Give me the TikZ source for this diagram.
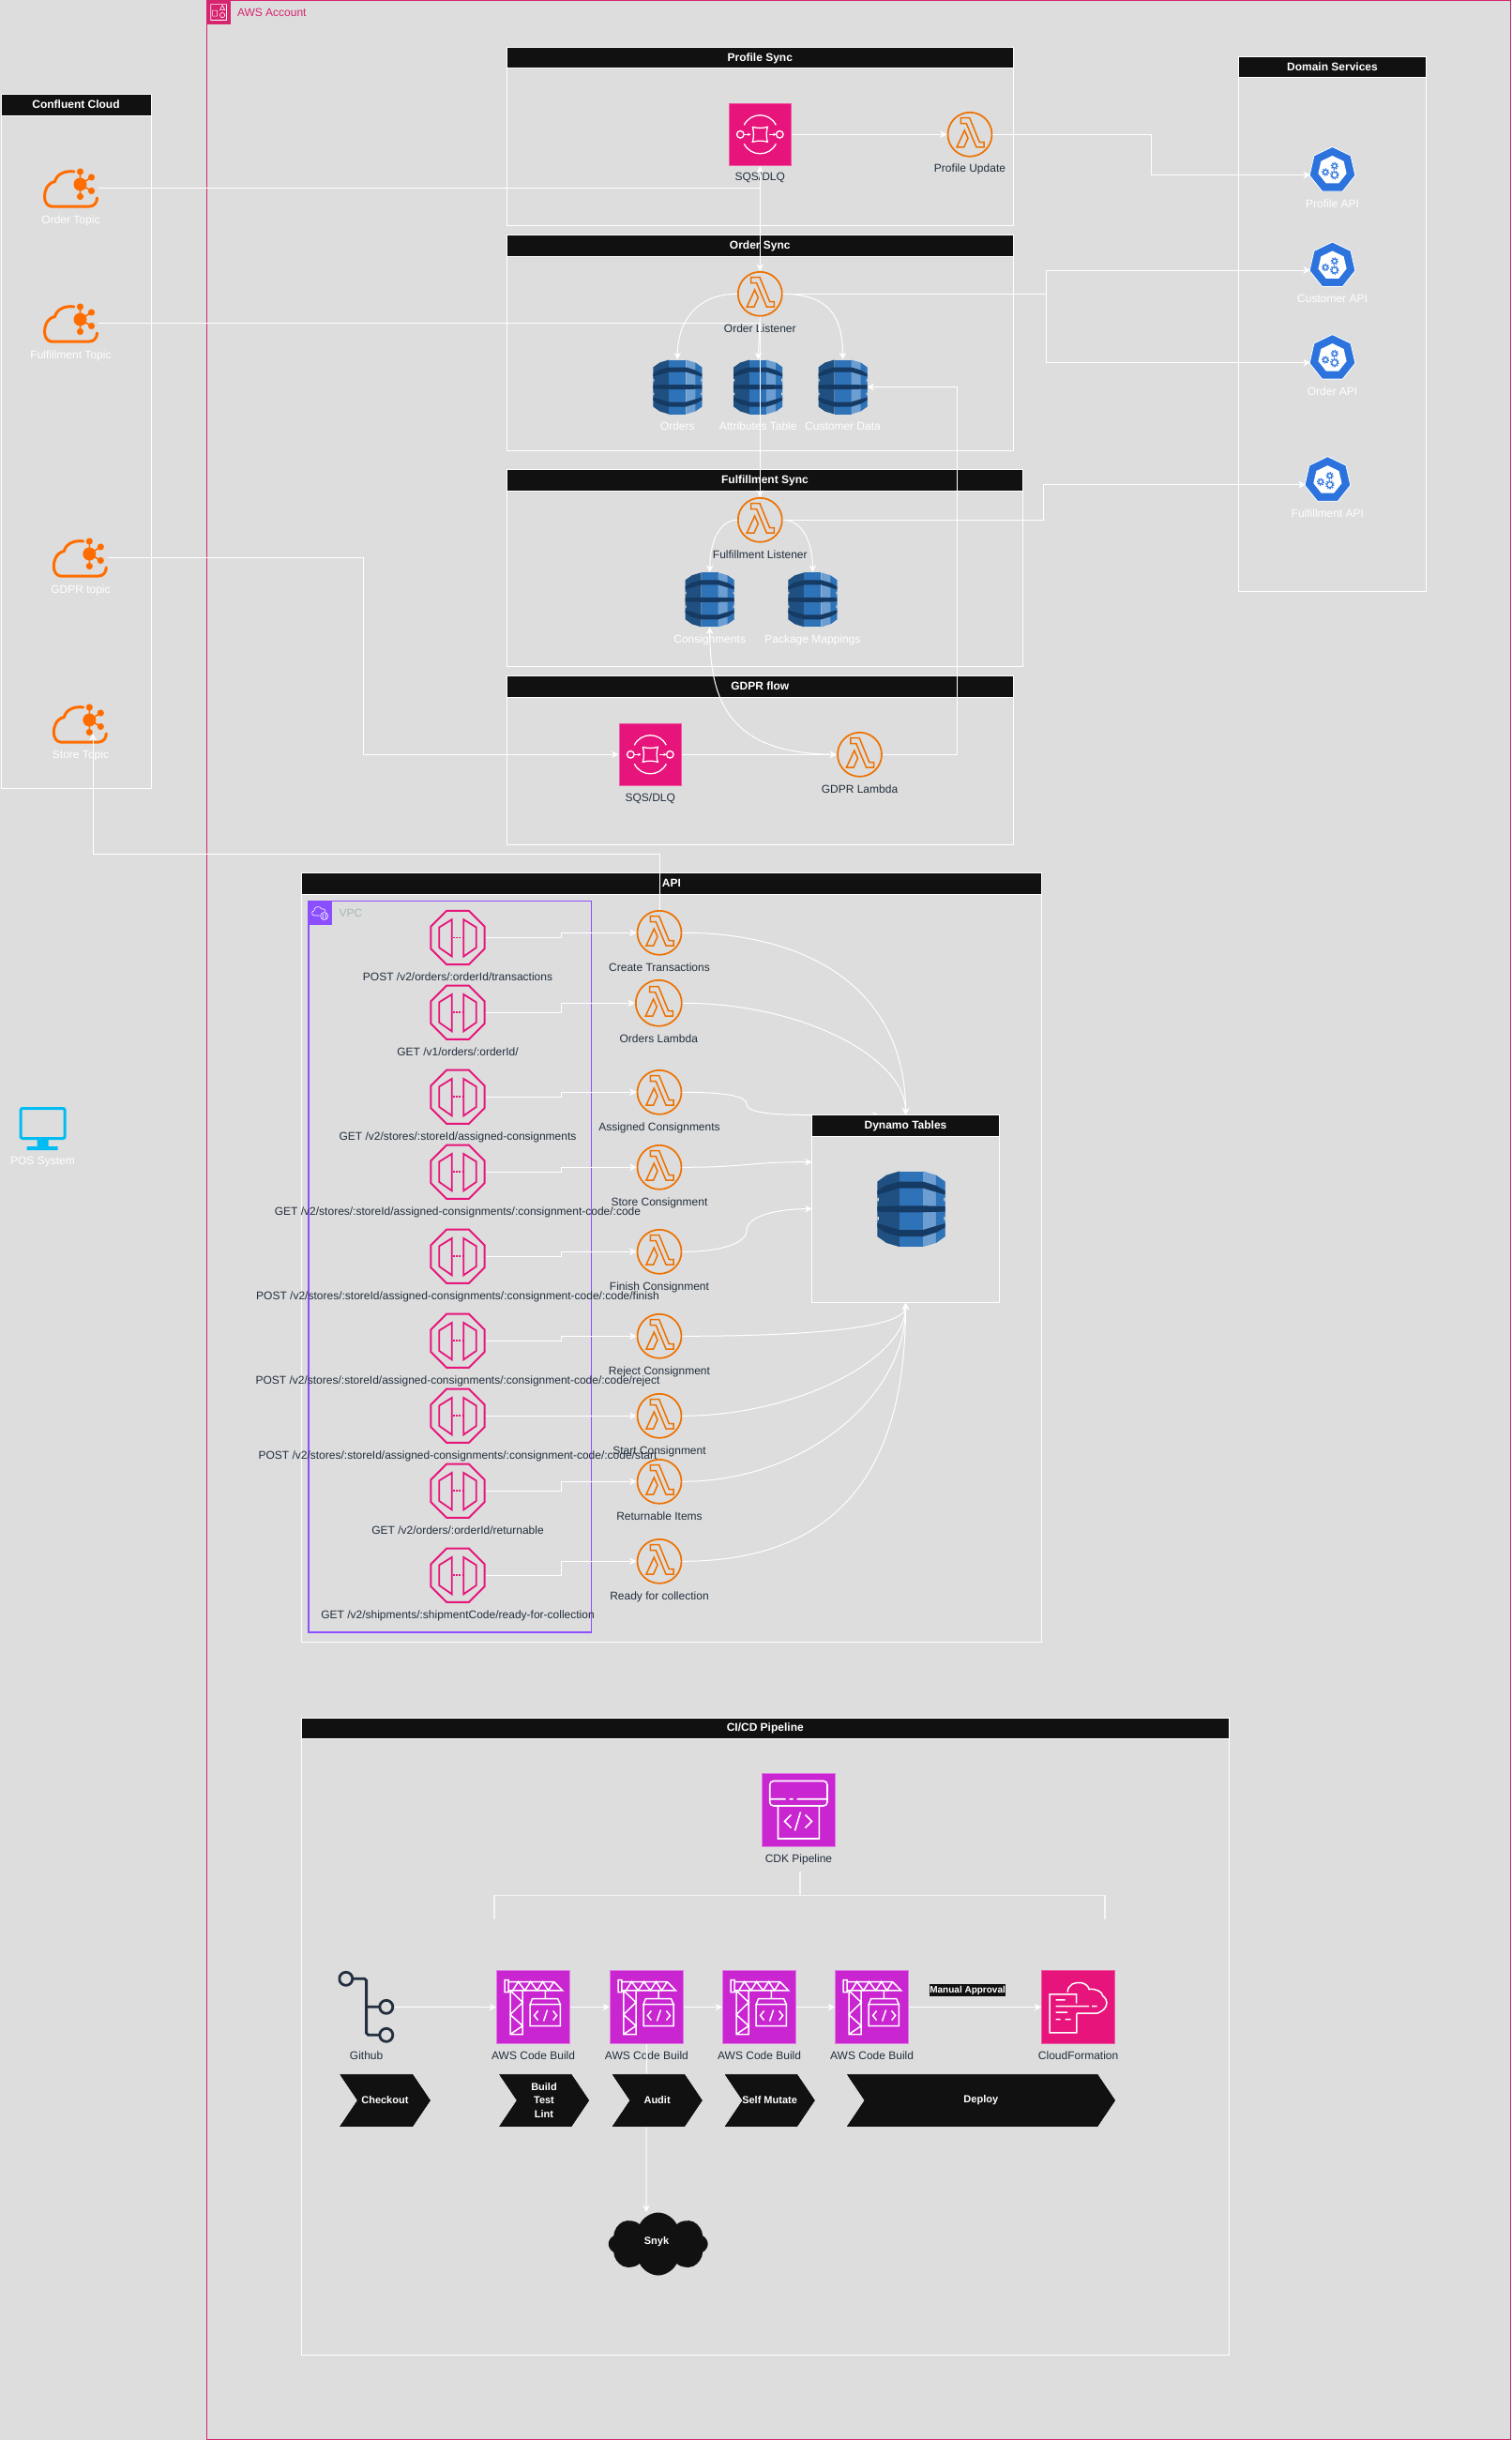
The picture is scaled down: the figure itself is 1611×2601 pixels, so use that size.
\documentclass[tikz,border=0pt]{standalone}
\usepackage{fontspec}
\setmainfont{Liberation Sans}
\usetikzlibrary{shapes.geometric, shapes.symbols, arrows.meta, positioning}
\definecolor{pagebg}{RGB}{221,221,221}
\definecolor{headblack}{RGB}{17,17,17}
\definecolor{inkdark}{RGB}{35,47,62}
\definecolor{awscrimson}{RGB}{214,36,110}
\definecolor{awsorange}{RGB}{237,113,0}
\definecolor{kafkaorange}{RGB}{255,109,0}
\definecolor{awspink}{RGB}{231,21,123}
\definecolor{awspurple}{RGB}{201,37,209}
\definecolor{vpcpurple}{RGB}{140,79,255}
\definecolor{vpcgrey}{RGB}{170,183,184}
\definecolor{kubeblue}{RGB}{44,115,222}
\definecolor{poscyan}{RGB}{0,188,242}
\definecolor{ddbdark}{RGB}{32,80,129}
\definecolor{ddbmid}{RGB}{46,115,184}
\definecolor{ddblight}{RGB}{108,158,210}
\definecolor{ddbband}{RGB}{21,58,99}

% glyphs, drawn round the centre of their node
\newcommand{\lambdaglyph}{
  \draw[awsorange, line width=1.5pt]
    (-9.7,-17.7) -- (-0.3,-17.7) -- (10.3,8.3) -- (15,8.3) -- (15,13.7) -- (7,13.7)
    -- (-3.7,-11.7) -- (-9.7,-11.7) -- cycle
    (-14,13.7) -- (-5.7,-4.3) -- (-2,4) -- (-6.3,13.7) -- cycle;
}
\newcommand{\gatewayglyph}{
  \draw[awspink, line width=1.8pt]
    (-6.3,-19.3) -- (-19.7,-11) -- (-19.7,10.7) -- (-6.3,20) -- cycle
    (6.3,-19.3) -- (19.7,-11) -- (19.7,10.7) -- (6.3,20) -- cycle;
  \draw[awspink, line width=1.8pt, dash pattern=on 1.8pt off 1.4pt] (-5,0) -- (5,0);
}
\newcommand{\sqsglyph}{
  \draw[white, line width=1.3pt]
    (-17,-10) .. controls (-10,-24) and (10,-24) .. (17,-10)
    (-17,10) .. controls (-10,24) and (10,24) .. (17,10)
    (-21,0) circle (3.8) (21,0) circle (3.8)
    (-8,-8) .. controls (-3,-6.5) and (3,-6.5) .. (8,-8)
    .. controls (6.5,-3) and (6.5,3) .. (8,8)
    .. controls (3,6.5) and (-3,6.5) .. (-8,8)
    .. controls (-6.5,3) and (-6.5,-3) .. (-8,-8);
  \draw[white, line width=1.2pt, -{Stealth[length=3pt,width=3.5pt]}] (-17,0) -- (-10,0);
  \draw[white, line width=1.2pt, -{Stealth[length=3pt,width=3.5pt]}] (10,0) -- (17,0);
}
\newcommand{\dynamoglyph}{
  \fill[ddbdark] (-9,-29) -- (-19,-26) -- (-26,-21) -- (-26,21) -- (-19,26) -- (-9,29) -- cycle;
  \fill[ddbmid] (-9,-29) rectangle (9,29);
  \fill[ddblight] (9,-29) -- (19,-26) -- (26,-21) -- (26,21) -- (19,26) -- (9,29) -- cycle;
  \fill[ddbmid] (19,-26) -- (26,-21) -- (26,21) -- (19,26) -- cycle;
  \fill[ddbband] (-26,-14) -- (-20,-18) -- (-9,-21) -- (9,-21) -- (19,-18) -- (26,-14)
    -- (26,-11) -- (9,-16) -- (-9,-16) -- (-26,-11) -- cycle;
  \fill[ddbband] (-26,-2) -- (-9,-2.5) -- (9,-2.5) -- (26,-2) -- (26,2) -- (9,2.5) -- (-9,2.5) -- (-26,2) -- cycle;
  \fill[ddbband] (-26,11) -- (-9,16) -- (9,16) -- (26,11) -- (26,14) -- (19,18) -- (9,21)
    -- (-9,21) -- (-20,18) -- (-26,14) -- cycle;
  \fill[pagebg] (-27,-8.5) rectangle (-25,-6) (25,-8.5) rectangle (27,-6)
    (-27,6) rectangle (-25,8.5) (25,6) rectangle (27,8.5);
}
\newcommand{\kafkaglyph}{
  \draw[kafkaorange, line width=3pt, line cap=round]
    (3.5,-17.5) .. controls (-6,-19) and (-15,-15) .. (-17,-7)
    .. controls (-26,-5) and (-28,4) .. (-28,9)
    .. controls (-28,15) and (-25,19) .. (-21,19.5) -- (20,19.5)
    .. controls (25,19.5) and (28,15) .. (28,10.5);
  \draw[kafkaorange, line width=1.6pt]
    (10,-4) -- (10,-17.5) (10,-4) -- (22,-11.5) (10,-4) -- (22,3) (10,-4) -- (10,9);
  \fill[kafkaorange] (10,-4) circle (7) (10,-17.5) circle (3.6) (22,-11.5) circle (3.6)
    (22,3) circle (3.6) (10,9) circle (3.6);
}
\newcommand{\gearmark}[2]{
  \draw[kubeblue, line width=1pt] #1 circle (#2);
  \draw[kubeblue, line width=1.4pt, dash pattern=on 1.3pt off 1.3pt] #1 circle (#2+1.2);
}
\newcommand{\kubeglyph}{
  \node[regular polygon, regular polygon sides=7, fill=white, minimum size=31pt, inner sep=0pt] at (0,0) {};
  \gearmark{(-7.4,2)}{2.2}
  \gearmark{(2.3,-4.6)}{2.2}
  \gearmark{(2.3,5)}{3}
}
\newcommand{\buildglyph}{
  \draw[white, line width=1.5pt]
    (-30.4,-29) rectangle (-26.5,-16)
    (-26.5,-17.7) -- (31,-17.7) -- (22,-27) -- (-26.5,-27)
    (-22,-17.7) -- (-16,-27) -- (-9,-17.7) -- (-3,-27) -- (4,-17.7) -- (10,-27) -- (16,-17.7) -- (22,-27)
    (-24.6,-17.7) -- (-24.6,29) -- (-11.4,29) -- (-11.4,-17.7)
    (-24.6,-17.7) -- (-11.4,-5) -- (-24.6,8) -- (-11.4,20) -- (-24.6,29)
    (12.7,-17.7) -- (12.7,-9)
    (-3.4,-3) -- (-1,-9) -- (26,-9) -- (28.7,-3) -- cycle
    (-3.4,-3) rectangle (28.7,20)
    (5,4) -- (1,9) -- (5,14) (21,4) -- (25,9) -- (21,14) (15,3) -- (11,15);
}
\newcommand{\cdkglyph}{
  \draw[white, line width=1.6pt, rounded corners=4pt] (-30.8,-31) rectangle (30.5,-4.5);
  \draw[white, line width=1.6pt]
    (-30.8,-11.8) -- (-14,-11.8) (-10,-11.8) -- (-6,-11.8) (-2,-11.8) -- (30.5,-11.8)
    (-22,-4.5) -- (-22,30.5) -- (21.8,30.5) -- (21.8,-4.5)
    (-8,5) -- (-15,12) -- (-8,19) (7,5) -- (14,12) -- (7,19) (2,2) -- (-4,22);
}
\newcommand{\cfnglyph}{
  \draw[white, line width=1.5pt]
    (-2,-4) -- (-2,-13.7) -- (-30.4,-13.7) -- (-30.4,27.3) -- (-1.7,27.3) -- (-1.7,7)
    (-11.5,-16) .. controls (-11,-24) and (-4,-27) .. (3,-26)
    .. controls (8,-25) and (11,-22) .. (11.5,-19)
    .. controls (19,-20) and (26,-16) .. (26,-12)
    .. controls (32,-8) and (33,2) .. (20,6.7) -- (-1.7,6.7)
    (-24,-7.7) -- (-14,-7.7)
    (-24,-1) -- (11.5,-1) (14.5,-1) -- (20,-1)
    (-24,5.7) -- (-11.5,5.7)
    (-24,13) -- (-19,13) (-14,13) -- (-8,13);
}
\newcommand{\gitglyph}{
  \draw[inkdark, line width=2.8pt]
    (-21.8,-30) circle (7) (21.2,0) circle (7) (21.2,30) circle (7)
    (-14.8,-30) -- (-2,-30) -- (0,-28) -- (0,28) -- (2,30) -- (14,30)
    (0,0) -- (14,0);
}
\newcommand{\accountglyph}{
  \draw[white, line width=0.6pt]
    (-8.4,-8.4) rectangle (8.4,8.4)
    (-6.5,-2) rectangle (-1.5,4)
    (4,-7.5) -- (6.5,-2.5) -- (1.5,-2.5) -- cycle
    (4,3) circle (2.6);
}
\newcommand{\vpcglyph}{
  \draw[white, line width=0.6pt]
    (-1,3) -- (-6,3) .. controls (-10,3) and (-10,-2) .. (-7,-2)
    .. controls (-7,-7) and (0,-8) .. (1,-4) .. controls (3,-5) and (5,-4) .. (5,-1)
    (4,3.5) circle (4) (2.5,1) -- (2.5,6) (5.5,1) -- (5.5,6);
}

\tikzset{
  centred/.style={path picture={
      \begin{scope}[shift={(path picture bounding box.center)}]#1\end{scope}}},
  poolbody/.style={rectangle, draw=white, line width=1pt, inner sep=0pt, outer sep=0pt},
  poolhead/.style={rectangle, draw=white, line width=1pt, fill=headblack, text=white,
                   inner sep=0pt, outer sep=0pt, minimum height=22.6pt,
                   text height=9.5pt, text depth=2.5pt,
                   font=\fontsize{12}{14}\selectfont\bfseries},
  flow/.style={-{Stealth[length=7.5pt,width=7.5pt]}, draw=white, line width=1pt},
  capdark/.style={text=inkdark, inner sep=0pt, text height=9.5pt, text depth=2.5pt,
                  font=\fontsize{12}{14}\selectfont},
  caplight/.style={text=white, inner sep=0pt, text height=9.5pt, text depth=2.5pt,
                   font=\fontsize{12}{14}\selectfont},
  lambdaicon/.style={circle, draw=awsorange, line width=1.7pt, inner sep=0pt,
                     minimum size=47pt, centred=\lambdaglyph},
  gatewayicon/.style={regular polygon, regular polygon sides=8,
                      draw=awspink, line width=2pt, inner sep=0pt, minimum size=62pt,
                      centred=\gatewayglyph},
  sqsicon/.style={rectangle, fill=awspink, draw=awspink!70!white, line width=0.8pt,
                  inner sep=0pt, minimum size=66.7pt, centred=\sqsglyph},
  dynamoicon/.style={rectangle, inner sep=0pt, outer sep=0pt,
                     minimum width=52pt, minimum height=58.5pt, centred=\dynamoglyph},
  dynamobig/.style={rectangle, inner sep=0pt, outer sep=0pt,
                    minimum width=72.4pt, minimum height=81.6pt,
                    path picture={\begin{scope}[shift={(path picture bounding box.center)}, x=1.39pt, y=-1.39pt]
                      \dynamoglyph\end{scope}}},
  kafkaicon/.style={rectangle, inner sep=0pt, outer sep=0pt, minimum width=59pt,
                    minimum height=46pt, centred=\kafkaglyph},
  kubeicon/.style={regular polygon, regular polygon sides=7, fill=kubeblue, draw=white,
                   line width=0.8pt, inner sep=0pt, minimum size=50pt, centred=\kubeglyph},
  buildicon/.style={rectangle, fill=awspurple, draw=awspurple!60!white, line width=0.8pt,
                    inner sep=0pt, minimum width=78pt, minimum height=78.4pt, centred=\buildglyph},
  stagearrow/.style={signal, signal to=east, signal from=west, signal pointer angle=112,
                     fill=headblack, draw=white, line width=0.5pt, text=white, inner sep=0pt,
                     minimum height=56.5pt, align=center,
                     font=\fontsize{11}{14.5}\selectfont\bfseries},
  bracketline/.style={draw=white!96!black, line width=1.6pt},
}

\newcommand{\poolbox}[6]{
  \node[poolbody, anchor=north west, minimum width=#4pt, minimum height=#5pt] (#1) at (#2,#3) {};
  \node[poolhead, anchor=north west, minimum width=#4pt] (#1head) at (#1.north west) {#6};
}

\begin{document}
\begin{tikzpicture}[x=1pt, y=-1pt]
  \useasboundingbox (0,0) rectangle (1611,2601);
  \fill[pagebg] (0,0) rectangle (1611,2601);

  \node[rectangle, draw=awscrimson, line width=1.3pt, anchor=north west, inner sep=0pt, outer sep=0pt,
        minimum width=1390pt, minimum height=2600pt] (account) at (220.4,0.4) {};
  \node[rectangle, fill=awscrimson, inner sep=0pt, minimum size=25pt, anchor=north west,
        centred=\accountglyph] (accounticon) at (220.4,0.4) {};
  \node[right=7pt of accounticon, text=awscrimson, inner sep=0pt,
        font=\fontsize{12}{14}\selectfont] (accountcap) {AWS Account};

  \poolbox{confluent}{1}{101}{160}{739}{Confluent Cloud}
  \poolbox{profilesync}{540.3}{50.3}{540}{190}{Profile Sync}
  \poolbox{ordersync}{540.3}{250.5}{540}{230}{Order Sync}
  \poolbox{fulfilsync}{540.3}{500.7}{550.3}{209.6}{Fulfillment Sync}
  \poolbox{gdprflow}{540.3}{720.7}{540}{179.6}{GDPR flow}
  \poolbox{domain}{1320.3}{60.3}{200.3}{570.2}{Domain Services}
  \poolbox{apibox}{321}{930.7}{789.7}{819.3}{API}
  \poolbox{cicd}{321}{1831}{989.5}{679.3}{CI/CD Pipeline}

  \node[rectangle, draw=vpcpurple, line width=1.2pt, anchor=north west, inner sep=0pt, outer sep=0pt,
        minimum width=301.7pt, minimum height=779.7pt] (vpc) at (329,960.3) {};
  \node[rectangle, fill=vpcpurple, inner sep=0pt, minimum size=25pt, anchor=north west,
        centred=\vpcglyph] (vpcicon) at (329,960.3) {};
  \node[right=7pt of vpcicon, text=vpcgrey, inner sep=0pt,
        font=\fontsize{12}{14}\selectfont] (vpccap) {VPC};

  % confluent topics
  \node[kafkaicon] (ordertopic) at (75.5,200.5) {};
  \node[caplight] (ordertopiccap) at (75.5,235) {Order Topic};
  \node[kafkaicon] (fulfiltopic) at (75.5,344.5) {};
  \node[caplight] (fulfiltopiccap) at (75.5,378.7) {Fulfillment Topic};
  \node[kafkaicon] (gdprtopic) at (85.3,594.5) {};
  \node[caplight] (gdprtopiccap) at (86,628.6) {GDPR topic};
  \node[kafkaicon] (storetopic) at (85.3,771.5) {};
  \node[caplight] (storetopiccap) at (86,805) {Store Topic};

  % pos
  \node[rectangle, draw=poscyan, line width=3pt, rounded corners=2pt, inner sep=0pt,
        minimum width=47pt, minimum height=32pt] (possystem) at (45.6,1197.5) {};
  \fill[poscyan] ([xshift=-6pt]possystem.south) rectangle ([xshift=6pt,yshift=-7pt]possystem.south)
    ([xshift=-17pt,yshift=-7pt]possystem.south) rectangle ([xshift=16pt,yshift=-11pt]possystem.south);
  \node[caplight] (poscap) at (45.5,1238) {POS System};

  % profile sync
  \node[sqsicon] (sqsprofile) at (810.3,143.3) {};
  \node[capdark] (sqsprofilecap) at (810.3,189) {SQS/DLQ};
  \node[lambdaicon] (profileupdate) at (1034,143.3) {};
  \node[capdark] (profileupdatecap) at (1034,180.5) {Profile Update};

  % order sync
  \node[lambdaicon] (orderlistener) at (810.3,313.3) {};
  \node[capdark] (orderlistenercap) at (810.3,350.7) {Order Listener};
  \node[dynamoicon] (orderstable) at (722.3,412.5) {};
  \node[caplight] (orderstablecap) at (722.3,455) {Orders};
  \node[dynamoicon] (attrtable) at (808.2,412.5) {};
  \node[caplight] (attrtablecap) at (808.2,455) {Attributes Table};
  \node[dynamoicon] (customertable) at (898.5,412.5) {};
  \node[caplight] (customertablecap) at (898.5,455) {Customer Data};

  % fulfillment sync
  \node[lambdaicon] (fulfillistener) at (810.3,554.3) {};
  \node[capdark] (fulfillistenercap) at (810.3,591.7) {Fulfillment Listener};
  \node[dynamoicon] (consigntable) at (756.7,639.3) {};
  \node[caplight] (consigntablecap) at (756.7,681.7) {Consignments};
  \node[dynamoicon] (packagetable) at (866.4,639.3) {};
  \node[caplight] (packagetablecap) at (866.4,681.7) {Package Mappings};

  % gdpr flow
  \node[sqsicon] (sqsgdpr) at (693.3,804.3) {};
  \node[capdark] (sqsgdprcap) at (693.3,850.7) {SQS/DLQ};
  \node[lambdaicon] (gdprlambda) at (916.5,804.3) {};
  \node[capdark] (gdprlambdacap) at (916.5,841.7) {GDPR Lambda};

  % domain services
  \node[kubeicon] (profileapi) at (1420.5,181.5) {};
  \node[caplight] (profileapicap) at (1420.5,217.6) {Profile API};
  \node[kubeicon] (customerapi) at (1420.5,283) {};
  \node[caplight] (customerapicap) at (1420.5,318.6) {Customer API};
  \node[kubeicon] (orderapi) at (1420.5,381.6) {};
  \node[caplight] (orderapicap) at (1420.5,417.7) {Order API};
  \node[kubeicon] (fulfilapi) at (1415.4,511.7) {};
  \node[caplight] (fulfilapicap) at (1415.4,547.8) {Fulfillment API};

  % api gateways
  \node[gatewayicon] (gwtransactions) at (488,999.5) {};
  \node[capdark] (gwtransactionscap) at (488,1041.7) {POST /v2/orders/:orderId/transactions};
  \node[gatewayicon] (gworder) at (488,1079.3) {};
  \node[capdark] (gwordercap) at (488,1121.7) {GET /v1/orders/:orderId/};
  \node[gatewayicon] (gwassigned) at (488,1169.3) {};
  \node[capdark] (gwassignedcap) at (488,1211.7) {GET /v2/stores/:storeId/assigned-consignments};
  \node[gatewayicon] (gwstore) at (488,1249.3) {};
  \node[capdark] (gwstorecap) at (488,1291.7) {GET /v2/stores/:storeId/assigned-consignments/:consignment-code/:code};
  \node[gatewayicon] (gwfinish) at (488,1339.3) {};
  \node[capdark] (gwfinishcap) at (488,1381.7) {POST /v2/stores/:storeId/assigned-consignments/:consignment-code/:code/finish};
  \node[gatewayicon] (gwreject) at (488,1429.3) {};
  \node[capdark] (gwrejectcap) at (488,1471.7) {POST /v2/stores/:storeId/assigned-consignments/:consignment-code/:code/reject};
  \node[gatewayicon] (gwstart) at (488,1509.3) {};
  \node[capdark] (gwstartcap) at (488,1551.7) {POST /v2/stores/:storeId/assigned-consignments/:consignment-code/:code/start};
  \node[gatewayicon] (gwreturn) at (488,1589.3) {};
  \node[capdark] (gwreturncap) at (488,1631.7) {GET /v2/orders/:orderId/returnable};
  \node[gatewayicon] (gwready) at (488,1679.3) {};
  \node[capdark] (gwreadycap) at (488,1721.7) {GET /v2/shipments/:shipmentCode/ready-for-collection};

  % api lambdas
  \node[lambdaicon] (createtx) at (703,994.3) {};
  \node[capdark] (createtxcap) at (703,1031.7) {Create Transactions};
  \node[lambdaicon, minimum size=49pt] (orderslambda) at (702.3,1069.3) {};
  \node[capdark] (orderslambdacap) at (702.3,1107.7) {Orders Lambda};
  \node[lambdaicon] (assignedcons) at (703,1164.3) {};
  \node[capdark] (assignedconscap) at (703,1201.7) {Assigned Consignments};
  \node[lambdaicon] (storecons) at (703,1244.3) {};
  \node[capdark] (storeconscap) at (703,1281.7) {Store Consignment};
  \node[lambdaicon] (finishcons) at (703,1334.3) {};
  \node[capdark] (finishconscap) at (703,1371.7) {Finish Consignment};
  \node[lambdaicon] (rejectcons) at (703,1424.3) {};
  \node[capdark] (rejectconscap) at (703,1461.7) {Reject Consignment};
  \node[lambdaicon] (startcons) at (703,1509.3) {};
  \node[capdark] (startconscap) at (703,1546.7) {Start Consignment};
  \node[lambdaicon] (returnitems) at (703,1579.3) {};
  \node[capdark] (returnitemscap) at (703,1616.7) {Returnable Items};
  \node[lambdaicon] (readycollect) at (703,1664.3) {};
  \node[capdark] (readycollectcap) at (703,1701.7) {Ready for collection};

  % the arrow of this lambda ends behind the dynamo header
  \coordinate (assignedbend) at (796,1177);
  \coordinate (dynamohidden) at (937.5,1189);
  \draw[flow] (assignedcons.east) .. controls +(50,0) and +(0,-8) .. (assignedbend)
    .. controls +(0,8) and +(-50,0) .. (866,1188.6) -- (dynamohidden);

  \poolbox{dynamotables}{865.7}{1188.6}{199.6}{200.1}{Dynamo Tables}
  \node[dynamobig] (dynamomain) at (971.5,1288.8) {};

  % cicd
  \node[rectangle, fill=awspurple, draw=awspurple!60!white, line width=0.8pt, inner sep=0pt,
        minimum width=78.4pt, minimum height=78.4pt, centred=\cdkglyph] (cdkpipeline) at (851.5,1929.5) {};
  \node[capdark] (cdkpipelinecap) at (851.5,1981.7) {CDK Pipeline};
  \coordinate (bracketstem) at (852.7,1995.3);
  \coordinate (bracketleft) at (526.7,2045.7);
  \coordinate (bracketright) at (1177.7,2045.7);
  \draw[bracketline] (bracketleft) -- ++(0,-25.4) -| (bracketright);
  \draw[bracketline] (bracketstem) -- ++(0,25);

  \node[rectangle, inner sep=0pt, outer sep=0pt, minimum width=60pt, minimum height=78pt,
        centred=\gitglyph] (github) at (390.6,2139.3) {};
  \node[capdark] (githubcap) at (390.6,2191.7) {Github};
  \node[buildicon] (buildone) at (568.6,2139.5) {};
  \node[capdark] (buildonecap) at (568.6,2191.7) {AWS Code Build};
  \node[buildicon] (buildtwo) at (689.4,2139.5) {};
  \node[capdark] (buildtwocap) at (689.4,2191.7) {AWS Code Build};
  \node[buildicon] (buildthree) at (809.6,2139.5) {};
  \node[capdark] (buildthreecap) at (809.6,2191.7) {AWS Code Build};
  \node[buildicon] (buildfour) at (929.6,2139.5) {};
  \node[capdark] (buildfourcap) at (929.6,2191.7) {AWS Code Build};
  \node[rectangle, fill=awspink, draw=awspink!70!white, line width=0.8pt, inner sep=0pt,
        minimum width=78pt, minimum height=78.4pt, centred=\cfnglyph] (cloudformation) at (1149.6,2139.5) {};
  \node[capdark] (cloudformationcap) at (1149.6,2191.7) {CloudFormation};
  \node[rectangle, fill=headblack, text=white, inner sep=0pt, minimum width=81pt, minimum height=12.4pt,
        font=\fontsize{10}{12}\selectfont\bfseries] (manualapproval) at (1031.6,2121.5) {Manual Approval};

  \node[cloud, cloud puffs=8, cloud puff arc=130, aspect=1.5, fill=headblack, text=white, inner sep=0pt,
        minimum width=106pt, minimum height=67pt, font=\fontsize{11}{13}\selectfont\bfseries] (snyk) at (701.7,2392) {};
  \node[text=white, inner sep=0pt, font=\fontsize{11}{13}\selectfont\bfseries] (snykcap) at (700,2390) {Snyk};
  \coordinate (snyktip) at (689,2358);
  \draw[flow] (buildtwo.south) -- (snyktip);

  \node[stagearrow, minimum width=98.2pt] (checkout) at (410.4,2239) {Checkout};
  \node[stagearrow, minimum width=97.5pt] (buildstage) at (580,2239) {Build\\Test\\Lint};
  \node[stagearrow, minimum width=97.6pt] (auditstage) at (700.6,2239) {Audit};
  \node[stagearrow, minimum width=97.6pt] (mutatestage) at (820.6,2239) {Self Mutate};
  \node[stagearrow, minimum width=287.7pt] (deploystage) at (1045.8,2239) {Deploy};

  % connectors
  \draw[flow] (ordertopic.east) -| (orderlistener.north);
  \draw[flow] (ordertopic.east) -| (sqsprofile.south);
  \draw[flow] (fulfiltopic.east) -| (fulfillistener.north);
  \draw[flow] (sqsprofile.east) -- (profileupdate.west);
  \draw[flow] (profileupdate.east) -- ++(169,0) |- ([yshift=-5pt]profileapi.west);

  \draw[flow] (orderlistener.west) .. controls +(-42,0) and +(0,-42) .. (orderstable.north);
  \draw[flow] (orderlistener.south) -- (attrtable.north);
  \draw[flow] (orderlistener.east) .. controls +(52,0) and +(0,-42) .. (customertable.north);
  \draw[flow] (orderlistener.east) -- ++(281,0) |- ([yshift=-5pt]customerapi.west);
  \draw[flow] (orderlistener.east) -- ++(281,0) |- ([yshift=-5pt]orderapi.west);

  \draw[flow] (fulfillistener.west) .. controls +(-20,0) and +(0,-30) .. (consigntable.north);
  \draw[flow] (fulfillistener.east) .. controls +(22,0) and +(0,-30) .. (packagetable.north);
  \draw[flow] (fulfillistener.east) -- ++(278,0) |- ([yshift=-5pt]fulfilapi.west);

  \coordinate (customerbend) at (1020.6,412.5);
  \draw[flow] (gdprtopic.east) -- ++(273,0) |- (sqsgdpr.west);
  \draw[flow] (sqsgdpr.east) -- (gdprlambda.west);
  \draw[flow] (gdprlambda.west) .. controls +(-110,0) and +(0,85) .. (consigntable.south);
  \draw[flow] (gdprlambda.east) -| (customerbend) -- (customertable.east);

  \coordinate (storebend) at (99.2,910);
  \coordinate (storetip) at (99.2,782);
  \draw[flow] (createtx.north) |- (storebend) -- (storetip);

  \draw[flow] (gwtransactions.east) -- ++(81.3,0) |- (createtx.west);
  \draw[flow] (gworder.east) -- ++(81.3,0) |- (orderslambda.west);
  \draw[flow] (gwassigned.east) -- ++(81.3,0) |- (assignedcons.west);
  \draw[flow] (gwstore.east) -- ++(81.3,0) |- (storecons.west);
  \draw[flow] (gwfinish.east) -- ++(81.3,0) |- (finishcons.west);
  \draw[flow] (gwreject.east) -- ++(81.3,0) |- (rejectcons.west);
  \draw[flow] (gwstart.east) -- (startcons.west);
  \draw[flow] (gwreturn.east) -- ++(81.3,0) |- (returnitems.west);
  \draw[flow] (gwready.east) -- ++(81.3,0) |- (readycollect.west);

  \draw[flow] (createtx.east) .. controls +(140,0) and +(0,-130) .. (dynamotables.north);
  \draw[flow] (orderslambda.east) .. controls +(130,0) and +(0,-60) .. (dynamotables.north);
  \draw[flow] (storecons.east) .. controls +(70,0) and +(-70,0) .. ([yshift=50pt]dynamotables.west);
  \coordinate (finishbend) at (796,1312);
  \draw[flow] (finishcons.east) .. controls +(50,0) and +(0,10) .. (finishbend)
    .. controls +(0,-15) and +(-40,0) .. (dynamotables.west);
  \draw[flow] (rejectcons.east) .. controls +(150,0) and +(0,25) .. (dynamotables.south);
  \draw[flow] (startcons.east) .. controls +(120,0) and +(0,61) .. (dynamotables.south);
  \draw[flow] (returnitems.east) .. controls +(130,0) and +(0,101) .. (dynamotables.south);
  \draw[flow] (readycollect.east) .. controls +(172,0) and +(0,171) .. (dynamotables.south);

  \draw[flow] (github.east) -- (buildone.west);
  \draw[flow] (buildone.east) -- (buildtwo.west);
  \draw[flow] (buildtwo.east) -- (buildthree.west);
  \draw[flow] (buildthree.east) -- (buildfour.west);
  \draw[flow] (buildfour.east) -- (cloudformation.west);
\end{tikzpicture}
\end{document}
